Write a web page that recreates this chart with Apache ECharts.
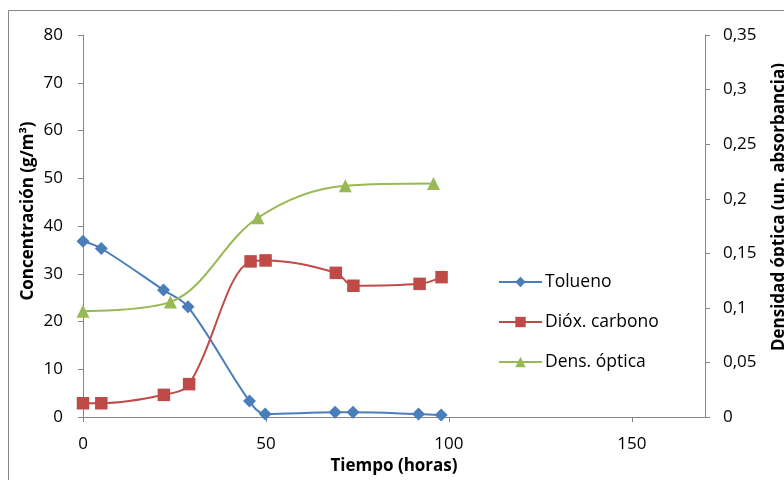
<!DOCTYPE html>
<html><head><meta charset="utf-8">
<script src="https://cdn.jsdelivr.net/npm/echarts@6/dist/echarts.min.js"></script>
<style>html,body{margin:0;padding:0;background:#fff}#c{width:784px;height:480px}</style>
</head><body><div id="c"></div>
<script>
const tolTime = [0, 5, 22, 28.7, 45.5, 49.8, 68.9, 73.8, 91.7, 97.9];
const tolVal  = [36.8, 35.3, 26.6, 23.1, 3.35, 0.65, 1.0, 1.0, 0.65, 0.45];
const co2Time = [0, 5, 22.1, 29, 45.8, 49.9, 69.1, 73.9, 92, 98];
const co2Val  = [2.9, 2.9, 4.66, 6.9, 32.6, 32.8, 30.2, 27.5, 27.9, 29.3];
const odTime  = [0, 23.9, 47.8, 71.7, 95.8];
const odVal   = [0.097, 0.1055, 0.1826, 0.212, 0.214];
const seriesNames = ['Tolueno', 'Dióx. carbono', 'Dens. óptica'];
const xTitle = 'Tiempo (horas)';
const yLeftTitle = 'Concentración (g/m³)';
const yRightTitle = 'Densidad óptica (un. absorbancia)';

const pair = (a, b) => a.map((v, i) => [v, b[i]]);
const FONT = '"Open Sans", sans-serif';
const AX = '#868686';
const chart = echarts.init(document.getElementById('c'));
chart.setOption({
  animation: false,
  backgroundColor: '#fff',
  grid: { left: 83, right: 79, top: 35, bottom: 58.5 },
  textStyle: { fontFamily: FONT },
  legend: {
    orient: 'vertical', left: 493, top: 268,
    itemWidth: 43, itemHeight: 13, itemGap: 22,
    textStyle: { fontSize: 17.5, color: '#000', fontFamily: FONT, padding: [0, 0, 0, -2] },
    data: seriesNames
  },
  xAxis: {
    type: 'value', min: 0, max: 170, interval: 50,
    name: xTitle, nameLocation: 'middle', nameGap: 34,
    nameTextStyle: { fontSize: 17, fontWeight: 'bold', color: '#000', fontFamily: FONT },
    axisLine: { show: true, lineStyle: { color: AX } },
    axisTick: { show: true, length: 5, lineStyle: { color: AX } },
    axisLabel: { fontSize: 17, color: '#000', margin: 19, fontFamily: FONT, showMaxLabel: false },
    splitLine: { show: false }
  },
  yAxis: [{
    type: 'value', min: 0, max: 80, interval: 10, position: 'left',
    axisLine: { show: true, lineStyle: { color: AX } },
    axisTick: { show: true, length: 5, lineStyle: { color: AX } },
    axisLabel: { fontSize: 17, color: '#000', margin: 20, fontFamily: FONT },
    splitLine: { show: false }
  }, {
    type: 'value', min: 0, max: 0.35, interval: 0.05, position: 'right',
    axisLine: { show: true, lineStyle: { color: AX } },
    axisTick: { show: true, length: 5, lineStyle: { color: AX } },
    axisLabel: { fontSize: 17, color: '#000', margin: 18, fontFamily: FONT,
      formatter: v => String(+v.toFixed(2)).replace('.', ',') },
    splitLine: { show: false }
  }],
  graphic: [
    { type: 'rect', shape: { x: 8.5, y: 10.5, width: 800, height: 500 },
      style: { fill: 'none', stroke: AX, lineWidth: 1 }, silent: true },
    { type: 'text', x: 28, y: 211, rotation: Math.PI / 2,
      style: { text: yLeftTitle, fontSize: 17, fontWeight: 'bold', fill: '#000', fontFamily: FONT,
        textAlign: 'center', textVerticalAlign: 'middle' } },
    { type: 'text', x: 779, y: 207, rotation: Math.PI / 2,
      style: { text: yRightTitle, fontSize: 17, fontWeight: 'bold', fill: '#000', fontFamily: FONT,
        textAlign: 'center', textVerticalAlign: 'middle' } }
  ],
  series: [{
    name: seriesNames[0], type: 'line', yAxisIndex: 0, smooth: 0.35,
    data: pair(tolTime, tolVal), symbol: 'diamond', symbolSize: 13,
    lineStyle: { color: '#4A7EBB', width: 2 }, itemStyle: { color: '#4A7EBB' }
  }, {
    name: seriesNames[1], type: 'line', yAxisIndex: 0, smooth: 0.35,
    data: pair(co2Time, co2Val), symbol: 'rect', symbolSize: 12.5,
    lineStyle: { color: '#BE4B48', width: 2 }, itemStyle: { color: '#BE4B48' }
  }, {
    name: seriesNames[2], type: 'line', yAxisIndex: 1, smooth: 0.35,
    data: pair(odTime, odVal), symbol: 'triangle', symbolSize: 13,
    lineStyle: { color: '#98B954', width: 2 }, itemStyle: { color: '#98B954' }
  }]
});
</script></body></html>
